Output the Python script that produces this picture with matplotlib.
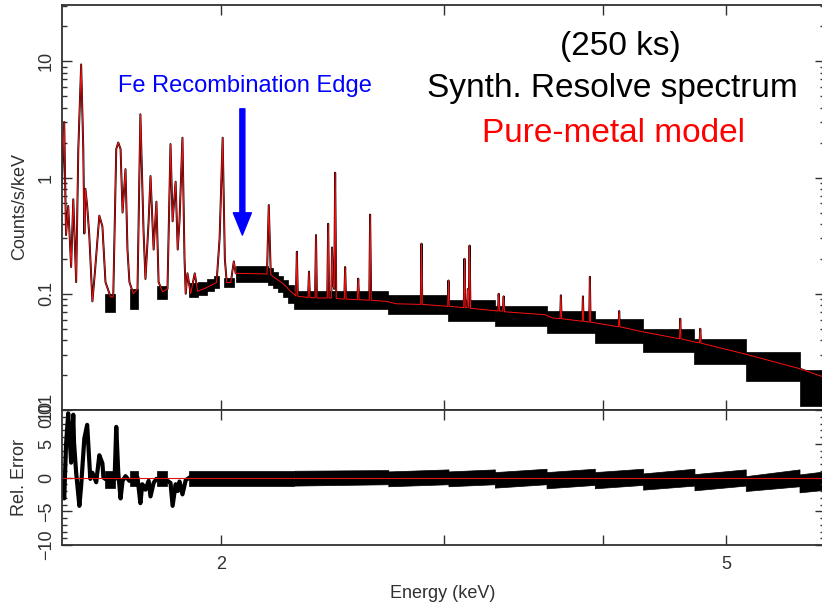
import matplotlib
matplotlib.use("Agg")
import matplotlib.pyplot as plt
from matplotlib.ticker import FixedLocator, NullLocator, LogLocator, MultipleLocator

plt.rcParams['font.family'] = ['Liberation Sans', 'DejaVu Sans']

# model curve (counts/s/keV) incl. emission lines
model_E = [1.500, 1.506, 1.511, 1.517, 1.525, 1.531, 1.539, 1.545, 1.553, 1.559,
           1.562, 1.565, 1.570, 1.576, 1.585, 1.593, 1.605, 1.614, 1.623, 1.638,
           1.646, 1.655, 1.661, 1.668, 1.674, 1.683, 1.689, 1.695, 1.707, 1.720,
           1.729, 1.739, 1.745, 1.755, 1.761, 1.771, 1.780, 1.787, 1.800, 1.816,
           1.826, 1.833, 1.843, 1.850, 1.856, 1.866, 1.873, 1.877, 1.883, 1.894,
           1.908, 1.918, 1.946, 1.971, 1.985, 1.996, 2.007, 2.015, 2.022, 2.037,
           2.048, 2.055, 2.175, 2.182, 2.190, 2.200, 2.240, 2.270, 2.292, 2.296,
           2.300, 2.343, 2.347, 2.351, 2.373, 2.377, 2.381, 2.426, 2.430, 2.434,
           2.444, 2.447, 2.452, 2.457, 2.461, 2.466, 2.502, 2.506, 2.510, 2.562,
           2.566, 2.570, 2.618, 2.622, 2.627, 2.700, 2.750, 2.874, 2.878, 2.882,
           3.018, 3.022, 3.026, 3.107, 3.111, 3.115, 3.125, 3.130, 3.135, 3.140,
           3.145, 3.306, 3.310, 3.315, 3.335, 3.340, 3.345, 3.600, 3.650, 3.700,
           3.705, 3.710, 3.851, 3.856, 3.861, 3.900, 3.905, 3.910, 4.113, 4.118,
           4.123, 4.300, 4.594, 4.600, 4.606, 4.720, 4.764, 4.770, 4.776, 5.180,
           5.710, 6.000]
model_y = [0.90, 3.0, 0.32, 0.57, 0.17, 0.65, 0.126, 1.76, 9.4, 1.76,
           0.33, 0.80, 0.57, 0.32, 0.086, 0.164, 0.47, 0.38, 0.126, 0.094,
           0.094, 1.76, 2.0, 1.76, 0.50, 1.18, 0.24, 0.126, 0.100, 0.110,
           3.5, 0.34, 0.134, 0.42, 1.03, 0.24, 0.62, 0.126, 0.104, 0.110,
           1.94, 0.42, 0.92, 0.24, 0.42, 2.2, 0.20, 0.10, 0.15, 0.10,
           0.15, 0.105, 0.112, 0.120, 0.125, 0.30, 2.2, 0.20, 0.125, 0.125,
           0.19, 0.150, 0.148, 0.58, 0.146, 0.140, 0.122, 0.105, 0.096, 0.23,
           0.095, 0.093, 0.155, 0.093, 0.092, 0.32, 0.092, 0.092, 0.40, 0.092,
           0.092, 0.25, 0.12, 0.11, 1.1, 0.091, 0.090, 0.17, 0.090, 0.089,
           0.135, 0.089, 0.088, 0.48, 0.088, 0.086, 0.082, 0.081, 0.27, 0.081,
           0.078, 0.13, 0.078, 0.076, 0.20, 0.076, 0.076, 0.11, 0.076, 0.26,
           0.075, 0.071, 0.10, 0.071, 0.071, 0.095, 0.070, 0.066, 0.062, 0.061,
           0.097, 0.061, 0.058, 0.095, 0.058, 0.057, 0.14, 0.057, 0.052, 0.071,
           0.052, 0.047, 0.041, 0.061, 0.041, 0.0385, 0.0378, 0.050, 0.0376, 0.0302,
           0.0227, 0.0188]

# data error boxes: energy range and lower/upper counts
blk_e0 = [1.623, 1.698, 1.783, 1.887, 1.920, 1.950, 1.975, 2.011, 2.055, 2.178,
          2.200, 2.220, 2.240, 2.260, 2.285, 2.710, 3.022, 3.287, 3.610, 3.940,
          4.300, 4.720, 5.180, 5.710]
blk_e1 = [1.652, 1.723, 1.816, 1.920, 1.950, 1.975, 1.995, 2.048, 2.178, 2.200,
          2.220, 2.240, 2.260, 2.285, 2.710, 3.022, 3.287, 3.610, 3.940, 4.300,
          4.720, 5.180, 5.710, 6.000]
blk_lo = [0.070, 0.074, 0.091, 0.093, 0.097, 0.105, 0.112, 0.115, 0.126, 0.120,
          0.112, 0.103, 0.094, 0.084, 0.074, 0.067, 0.058, 0.053, 0.046, 0.038,
          0.0313, 0.025, 0.0176, 0.0108]
blk_hi = [0.100, 0.110, 0.117, 0.123, 0.127, 0.135, 0.142, 0.137, 0.172, 0.165,
          0.155, 0.143, 0.132, 0.118, 0.105, 0.098, 0.088, 0.079, 0.071, 0.061,
          0.050, 0.041, 0.0317, 0.0222]

# relative error, line-rich low energy part
res_E = [1.500, 1.503, 1.506, 1.511, 1.517, 1.525, 1.531, 1.533, 1.539, 1.548,
         1.553, 1.562, 1.570, 1.579, 1.585, 1.596, 1.605, 1.614, 1.617, 1.625,
         1.650, 1.655, 1.661, 1.668, 1.674, 1.683, 1.695, 1.707, 1.720, 1.729,
         1.735, 1.745, 1.755, 1.761, 1.771, 1.780, 1.790, 1.800, 1.816, 1.826,
         1.833, 1.843, 1.850, 1.856, 1.866, 1.877, 1.887]
res_v = [-0.5, -1.2, -3.1, 4.8, 9.5, 2.2, 9.3, 5.2, 0.7, -4.2,
         -1.2, 5.8, 7.8, -0.2, 0.7, -0.7, 3.3, 2.1, 0.0, -0.3,
         -0.3, 7.5, 0.7, -3.1, -0.5, 0.2, -0.5, -0.3, 0.0, -3.8,
         -1.0, -1.8, -0.5, -2.8, -0.8, -0.2, -0.4, 0.0, -0.5, -0.8,
         -4.2, -1.0, -2.0, -0.6, -2.5, -0.4, -0.1]

# relative error bands per group
rb_e0 = [1.623, 1.698, 1.783, 1.887, 2.285, 2.710, 3.022, 3.287, 3.610, 3.940,
         4.300, 4.720, 5.180, 5.710]
rb_e1 = [1.652, 1.723, 1.816, 2.285, 2.710, 3.022, 3.287, 3.610, 3.940, 4.300,
         4.720, 5.180, 5.710, 6.000]
rb_lo0 = [-1.5, -1.3, -1.3, -1.2, -1.2, -1.3, -1.3, -1.5, -1.6, -1.6, -1.8, -1.9, -2.0, -2.2]
rb_lo1 = [-1.5, -1.3, -1.3, -1.2, -1.0, -1.0, -1.0, -1.0, -1.1, -1.1, -1.2, -1.2, -1.3, -1.8]
rb_hi0 = [0.9, 1.0, 1.0, 1.0, 1.0, 0.9, 0.9, 0.8, 0.8, 0.8, 0.6, 0.5, 0.2, 0.45]
rb_hi1 = [0.9, 1.0, 1.0, 1.0, 1.1, 1.2, 1.2, 1.3, 1.3, 1.3, 1.3, 1.2, 1.2, 0.95]

W, H = 822, 606
fig = plt.figure(figsize=(W / 100, H / 100), dpi=100)
ax1 = fig.add_axes([62 / W, 1 - 410 / H, 763 / W, 405 / H])
ax2 = fig.add_axes([62 / W, 1 - 545 / H, 763 / W, 135 / H], sharex=ax1)

# top panel
for e0, e1, lo, hi in zip(blk_e0, blk_e1, blk_lo, blk_hi):
    ax1.fill_between([e0, e1], [lo, lo], [hi, hi], color='black', lw=0.5)
ax1.plot(model_E, model_y, color='black', lw=1.4)
ax1.plot(model_E, model_y, color='#ff1010', lw=0.7)
ax1.set_xscale('log')
ax1.set_yscale('log')
ax1.set_xlim(1.5, 5.98)
ax1.set_ylim(0.01, 30.5)

# bottom panel
for e0, e1, l0, l1, h0, h1 in zip(rb_e0, rb_e1, rb_lo0, rb_lo1, rb_hi0, rb_hi1):
    ax2.fill_between([e0, e1], [l0, l1], [h0, h1], color='black', lw=0.5)
ax2.plot(res_E, res_v, color='black', lw=3.0)
ax2.axhline(0, color='#e01010', lw=0.8)
ax2.set_ylim(-10, 10)

# ticks, PGPLOT style
for ax in (ax1, ax2):
    ax.tick_params(which='both', direction='in', top=True, right=True,
                   colors='#303030', labelsize=13, width=1.0)
    ax.tick_params(which='major', length=7)
    ax.tick_params(which='minor', length=3.5)
    ax.tick_params(axis='y', labelrotation=90, pad=5)
    for s in ax.spines.values():
        s.set_linewidth(1.3)
        s.set_color('#303030')
    ax.xaxis.set_major_locator(FixedLocator([2, 3, 4, 5]))
    ax.xaxis.set_minor_locator(NullLocator())

ax1.yaxis.set_major_locator(FixedLocator([0.01, 0.1, 1, 10]))
ax1.yaxis.set_minor_locator(LogLocator(base=10, subs=range(2, 10)))
ax1.set_yticklabels(['0.01', '0.1', '1', '10'], va='center')
ax1.tick_params(axis='x', labelbottom=False)

ax2.yaxis.set_major_locator(FixedLocator([-10, -5, 0, 5, 10]))
ax2.yaxis.set_minor_locator(MultipleLocator(1))
ax2.set_yticklabels(['\u221210', '\u22125', '0', '5', '10'], va='center')
ax2.set_xticklabels(['2', '', '', '5'])
ax2.tick_params(axis='x', pad=8)

lab = dict(color='#303030', fontsize=13)
fig.text(443 / W, 1 - 593 / H, 'Energy (keV)', ha='center', va='center', **lab)
fig.text(20 / W, 1 - 206 / H, 'Counts/s/keV', rotation=90, ha='center', va='center', **lab)
fig.text(20 / W, 1 - 478 / H, 'Rel. Error', rotation=90, ha='center', va='center', **lab)

# annotations
fig.text(620 / W, 1 - 47 / H, '(250 ks)', ha='center', va='center', fontsize=24, color='black')
fig.text(612 / W, 1 - 88 / H, 'Synth. Resolve spectrum', ha='center', va='center',
         fontsize=24, color='black')
fig.text(613 / W, 1 - 133 / H, 'Pure-metal model', ha='center', va='center',
         fontsize=24, color='red')
fig.text(245 / W, 1 - 86 / H, 'Fe Recombination Edge', ha='center', va='center',
         fontsize=17, color='blue')
ax1.annotate('', xy=(2.08, 0.32), xytext=(2.08, 3.9),
             arrowprops=dict(facecolor='blue', edgecolor='blue', width=3.6,
                             headwidth=13, headlength=16))

fig.savefig('out.png', dpi=100)
